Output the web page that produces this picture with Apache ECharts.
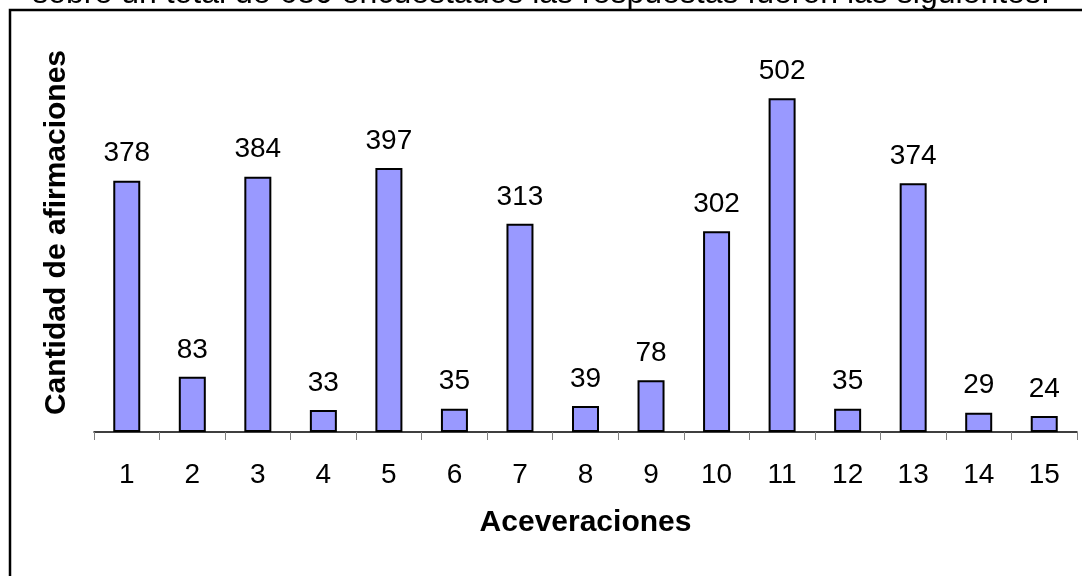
<!DOCTYPE html>
<html><head><meta charset="utf-8">
<script src="https://cdn.jsdelivr.net/npm/echarts@6/dist/echarts.min.js"></script>
<style>html,body{margin:0;padding:0;background:#fff}#c{width:1082px;height:576px}</style>
</head><body><div id="c"></div>
<script>
const categories = ['1','2','3','4','5','6','7','8','9','10','11','12','13','14','15'];
const values = [378,83,384,33,397,35,313,39,78,302,502,35,374,29,24];
const xName = 'Aceveraciones';
const yName = 'Cantidad de afirmaciones';
const topText = 'sobre un total de 680 encuestados las respuestas fueron las siguientes:';
const chart = echarts.init(document.getElementById('c'), null, {renderer:'canvas'});
const font = 'Arial, "Liberation Sans", sans-serif';
chart.setOption({
  animation:false,
  backgroundColor:'#fff',
  graphic:[
    {type:'rect', shape:{x:10,y:10,width:1200,height:700}, style:{fill:'none',stroke:'#000',lineWidth:2.5}, z:1},
    {type:'text', left:'center', top:-22, style:{text:topText, font:'32px '+font, fill:'#000'}, z:2}
  ],
  grid:{left:94,right:5,top:33,bottom:144},
  xAxis:{type:'category',data:categories,
    axisLine:{lineStyle:{color:'#000',width:1.5}},
    axisTick:{show:true,alignWithLabel:false,length:8,lineStyle:{color:'#808080',width:1}},
    axisLabel:{color:'#000',fontSize:28,fontFamily:font,margin:29},
    name:xName,nameLocation:'middle',nameGap:76,
    nameTextStyle:{color:'#000',fontSize:30,fontWeight:'bold',fontFamily:font}},
  yAxis:{type:'value',min:0,max:600,show:true,
    axisLine:{show:false},axisTick:{show:false},axisLabel:{show:false},splitLine:{show:false},
    name:yName,nameLocation:'middle',nameGap:22,nameRotate:90,
    nameTextStyle:{color:'#000',fontSize:30,fontWeight:'bold',fontFamily:font}},
  series:[{type:'bar',data:values,barWidth:27,
    itemStyle:{color:'#9999FF',borderColor:'#000',borderWidth:2},
    label:{show:true,position:'top',distance:13,color:'#000',fontSize:28,fontFamily:font}}]
});
</script></body></html>
